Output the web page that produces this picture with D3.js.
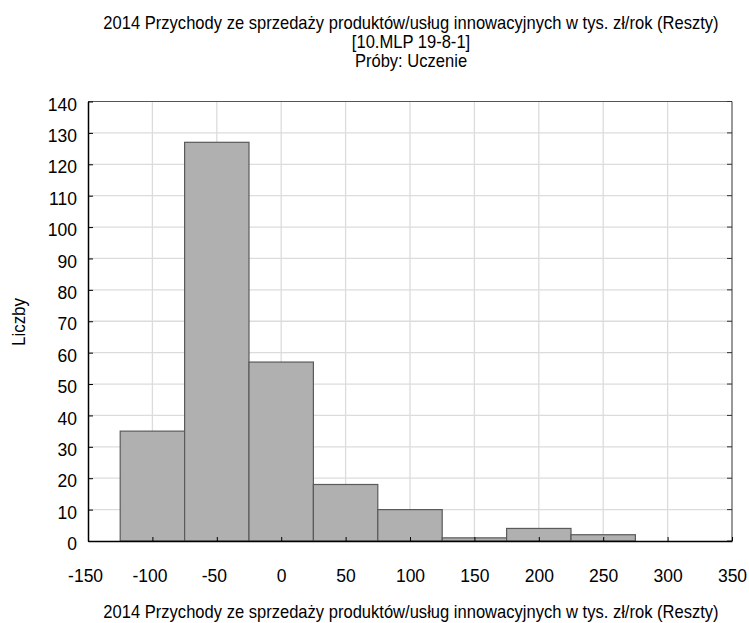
<!DOCTYPE html>
<html>
<head>
<meta charset="utf-8">
<script src="https://cdn.jsdelivr.net/npm/d3@7"></script>
<style>
  body { margin: 0; background: #fff; }
  svg text { font-family: "Liberation Sans", Arial, sans-serif; fill: #000; }
</style>
</head>
<body>
<svg id="chart" width="749" height="623"></svg>
<script>
// Histogram of residuals: bin edges and counts
const binStarts = [-125, -75, -25, 25, 75, 125, 175, 225];
const binWidth = 50;
const counts = [35, 127, 57, 18, 10, 1, 4, 2];
const xTicks = [-150, -100, -50, 0, 50, 100, 150, 200, 250, 300, 350];
const yTicks = [0, 10, 20, 30, 40, 50, 60, 70, 80, 90, 100, 110, 120, 130, 140];
const titleLines = [
  "2014 Przychody ze sprzedaży produktów/usług innowacyjnych w tys. zł/rok (Reszty)",
  "[10.MLP 19-8-1]",
  "Próby: Uczenie"
];
const xTitle = "2014 Przychody ze sprzedaży produktów/usług innowacyjnych w tys. zł/rok (Reszty)";
const yTitle = "Liczby";

const bins = binStarts.map((s, i) => ({ x0: s, x1: s + binWidth, n: counts[i] }));

const svg = d3.select("#chart");
const plotL = 88, plotR = 732, plotT = 101.5, plotB = 541;
const cx = (plotL + plotR) / 2 + 1;
const tickFont = 17.5, titleFont = 18, squeeze = 0.92;

const x = d3.scaleLinear().domain([-150, 350]).range([plotL, plotR]);
const y = d3.scaleLinear().domain([0, 140]).range([plotB, plotT]);

// grid
const grid = svg.append("g");
grid.selectAll("line.v").data(xTicks.slice(1, -1)).join("line")
  .attr("x1", d => x(d)).attr("x2", d => x(d))
  .attr("y1", plotT).attr("y2", plotB)
  .attr("stroke", "#dcdcdc").attr("stroke-width", 1.3);
grid.selectAll("line.h").data(yTicks.slice(1, -1)).join("line")
  .attr("x1", plotL).attr("x2", plotR)
  .attr("y1", d => y(d)).attr("y2", d => y(d))
  .attr("stroke", "#dcdcdc").attr("stroke-width", 1.3);

// bars
svg.append("g").selectAll("rect").data(bins).join("rect")
  .attr("x", d => x(d.x0))
  .attr("y", d => y(d.n))
  .attr("width", d => x(d.x1) - x(d.x0))
  .attr("height", d => y(0) - y(d.n))
  .attr("fill", "#b0b0b0")
  .attr("stroke", "#5a5a5a")
  .attr("stroke-width", 1.2);

// frame: top and right in grey, left and bottom via axes
svg.append("line").attr("x1", plotL).attr("x2", plotR).attr("y1", plotT).attr("y2", plotT)
  .attr("stroke", "#555").attr("stroke-width", 1.2);
svg.append("line").attr("x1", plotR).attr("x2", plotR).attr("y1", plotT).attr("y2", plotB)
  .attr("stroke", "#555").attr("stroke-width", 1.2);

// inward ticks on right edge
svg.append("g").selectAll("line").data(yTicks).join("line")
  .attr("x1", plotR - 5).attr("x2", plotR)
  .attr("y1", d => y(d)).attr("y2", d => y(d))
  .attr("stroke", "#333");

// axes
const yAxis = d3.axisLeft(y).tickValues(yTicks).tickFormat(d => String(d))
  .tickSizeInner(-5).tickSizeOuter(0).tickPadding(11);
const gy = svg.append("g").attr("transform", `translate(${plotL},0)`).call(yAxis);
gy.select(".domain").attr("stroke", "#000").attr("stroke-width", 1.5);
gy.selectAll(".tick line").attr("stroke", "#000");
gy.selectAll("text").attr("font-size", tickFont).attr("font-family", null)
  .attr("dy", null).attr("y", 8.7);

const xAxis = d3.axisBottom(x).tickValues(xTicks).tickFormat(d => String(d))
  .tickSizeInner(-4).tickSizeOuter(0);
const gx = svg.append("g").attr("transform", `translate(0,${plotB})`).call(xAxis);
gx.select(".domain").attr("stroke", "#000").attr("stroke-width", 1.5);
gx.selectAll(".tick line").attr("stroke", "#000");
gx.selectAll("text").attr("font-size", tickFont).attr("font-family", null)
  .attr("dy", null).attr("y", 41);
// negative labels: centre the digits on the tick, the minus sign hangs to the left
gx.selectAll(".tick text").each(function (d) {
  if (d < 0) {
    const full = this.getComputedTextLength();
    const t = d3.select(this).text(String(-d));
    const digits = this.getComputedTextLength();
    t.text(String(d)).attr("dx", -(full - digits) / 2);
  }
});

// titles, drawn slightly condensed
function label(tx, ty, text, rotate, sx) {
  return svg.append("text")
    .attr("transform", `translate(${tx},${ty})${rotate ? " rotate(-90)" : ""} scale(${sx},1)`)
    .attr("text-anchor", "middle").attr("font-size", titleFont).text(text);
}
const titleY = [29, 48, 67];
titleLines.forEach((t, i) => label(cx, titleY[i], t, false, squeeze));
label(cx, 617.5, xTitle, false, squeeze);
label(25, 322, yTitle, true, 0.94);
</script>
</body>
</html>
